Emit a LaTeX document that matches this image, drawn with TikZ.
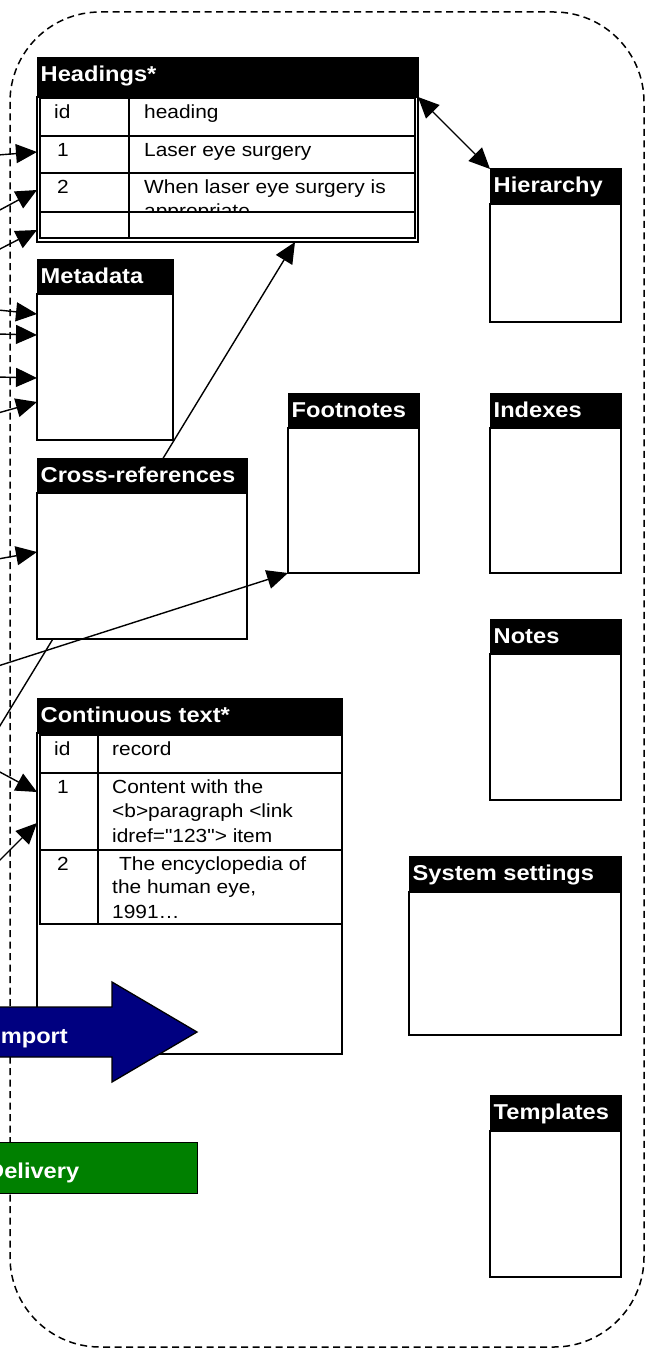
\documentclass[tikz,border=0pt]{standalone}
\usepackage{fontspec}
\newfontfamily\arial{Liberation Sans}[FakeStretch=1.1]
\usetikzlibrary{arrows.meta,calc}
\definecolor{navy}{RGB}{0,0,128}
\definecolor{dgreen}{RGB}{0,128,0}
\tikzset{
 every node/.style={font=\arial\fontsize{19}{24}\selectfont},
 bodybox/.style={draw=black, fill=white, line width=1.5pt, anchor=north west, inner sep=0pt, outer sep=0pt},
 headbox/.style={draw=black, fill=black, line width=1pt, anchor=north west, inner sep=0pt, outer sep=0pt},
 headtext/.style={anchor=base west, inner sep=0pt, text=white, font=\arial\bfseries\fontsize{21.5}{24}\selectfont},
 celltext/.style={anchor=base west, inner sep=0pt},
 tab/.style={line width=1.7pt},
 tipshape/.style={},
 conn/.style={line width=1.4pt, -{Triangle[length=21pt,width=19pt]}},
 boundary/.style={dash pattern=on 7pt off 4.5pt, line width=1.5pt, rounded corners=90pt},
}
\newcommand\entity[7]{%
 \pgfmathsetmacro\entw{#4-#2}%
 \pgfmathsetmacro\enthh{#5-#3}%
 \pgfmathsetmacro\entbh{#6-#5}%
 \node[bodybox, minimum width=\entw pt, minimum height=\entbh pt] (#1) at (#2,#5) {};
 \node[headbox, minimum width=\entw pt, minimum height=\enthh pt] (#1-h) at (#2,#3) {};
 \node[headtext] (#1-t) at ($(#1-h.north west)+(3.5,24)$) {#7};
}
\begin{document}
\begin{tikzpicture}[x=1pt,y=-1pt]
\useasboundingbox (0,0) rectangle (652,1348);
\clip (0,0) rectangle (652,1348);
\fill[white] (0,0) rectangle (652,1348);
% boundary
\draw[boundary] (10,12) rectangle (644,1347);
% free ends on the left
\coordinate (hx) at (295,0);
\coordinate (xs) at (-2,729);
\coordinate (fs) at (-2,666);
\coordinate (h1s) at (-2,155);
\coordinate (h2s) at (-2,211);
\coordinate (h3s) at (-2,250);
\coordinate (m1s) at (-2,310);
\coordinate (m2s) at (-2,334);
\coordinate (m3s) at (-2,377);
\coordinate (m4s) at (-2,413);
\coordinate (cs) at (-2,559);
\coordinate (t1s) at (-2,771);
\coordinate (t2s) at (-2,862);
% entities
\entity{Headings}{37}{58}{418}{97}{242}{Headings*}
\entity{Hierarchy}{490}{169}{621}{204}{322}{Hierarchy}
\entity{Metadata}{37}{259}{173}{294}{440}{Metadata}
\entity{Footnotes}{288}{393}{419}{428}{573}{Footnotes}
\entity{Indexes}{490}{393}{621}{428}{573}{Indexes}
\entity{Notes}{490}{619}{621}{654}{800}{Notes}
\entity{Conttext}{37}{698}{342}{733}{1054}{Continuous text*}
\entity{Syssettings}{409}{856}{621}{892}{1035}{System settings}
\entity{Templates}{490}{1095}{621}{1131}{1277}{Templates}
% line to Headings passes under the Cross-references box
\draw[conn] (xs) -- (Headings.south -| hx);
\entity{Xref}{37}{458}{247}{493}{639}{Cross-references}
% Headings table
\draw[tab] (40,98) rectangle (415,238);
\draw[tab] (40,136) -- (415,136);
\draw[tab] (40,173) -- (415,173);
\draw[tab] (40,212) -- (415,212);
\draw[tab] (129,98) -- (129,238);
\node[celltext] (h-id) at (54,119) {id};
\node[celltext] (h-hd) at (144,119) {heading};
\node[celltext] (h-1) at (57,157) {1};
\node[celltext] (h-1t) at (144,157) {Laser eye surgery};
\node[celltext] (h-2) at (57,194) {2};
\node[celltext] (h-2t) at (144,194) {When laser eye surgery is};
\begin{scope}
\clip (131,174) rectangle (413,211);
\node[celltext] (h-2u) at (144,218) {appropriate};
\end{scope}
% Continuous text table
\draw[tab] (40,735) rectangle (342,924);
\draw[tab] (40,773) -- (342,773);
\draw[tab] (40,850) -- (342,850);
\draw[tab] (98,735) -- (98,924);
\node[celltext] (c-id) at (54,755) {id};
\node[celltext] (c-rec) at (112,755) {record};
\node[celltext] (c-1) at (57,793) {1};
\node[celltext] (c-1a) at (112,793) {Content with the};
\node[celltext] (c-1b) at (112,817) {<b>paragraph <link};
\node[celltext] (c-1c) at (112,842) {idref="123"> item};
\node[celltext] (c-2) at (57,870) {2};
\node[celltext] (c-2a) at (119,870) {The encyclopedia of};
\node[celltext] (c-2b) at (112,893) {the human eye,};
\node[celltext] (c-2c) at (112,918) {1991…};
% connectors
\draw[line width=1.4pt, {Triangle[length=21pt,width=19pt]}-{Triangle[length=21pt,width=19pt]}] (Headings.north east) -- (Hierarchy-h.north west);
\draw[conn] (h1s) -- ($(Headings.north west)+(0,55)$);
\draw[conn] (h2s) -- ($(Headings.north west)+(0,93)$);
\draw[conn] (h3s) -- ($(Headings.north west)+(0,133)$);
\draw[conn] (m1s) -- ($(Metadata.north west)+(0,20)$);
\draw[conn] (m2s) -- ($(Metadata.north west)+(0,41)$);
\draw[conn] (m3s) -- ($(Metadata.north west)+(0,84)$);
\draw[conn] (m4s) -- ($(Metadata.north west)+(0,108)$);
\draw[conn] (cs) -- ($(Xref.north west)+(0,59)$);
\draw[conn] (fs) -- (Footnotes.south west);
\draw[conn] (t1s) -- ($(Conttext.north west)+(0,59)$);
\draw[conn] (t2s) -- ($(Conttext.north west)+(0,90)$);
% Import arrow
\draw[line width=1.3pt, fill=navy] (-30,1007) -- (112,1007) -- (112,982) -- (197,1032) -- (112,1082) -- (112,1057) -- (-30,1057) -- cycle;
\node[headtext] (import) at (-6,1043) {Import};
% Delivery box
\node[draw=black, line width=1.3pt, fill=dgreen, anchor=north west, minimum width=230pt, minimum height=51pt, inner sep=0pt] (delivery) at (-33,1142) {};
\node[headtext] (delivery-t) at (-13,1178) {Delivery};
\end{tikzpicture}
\end{document}
